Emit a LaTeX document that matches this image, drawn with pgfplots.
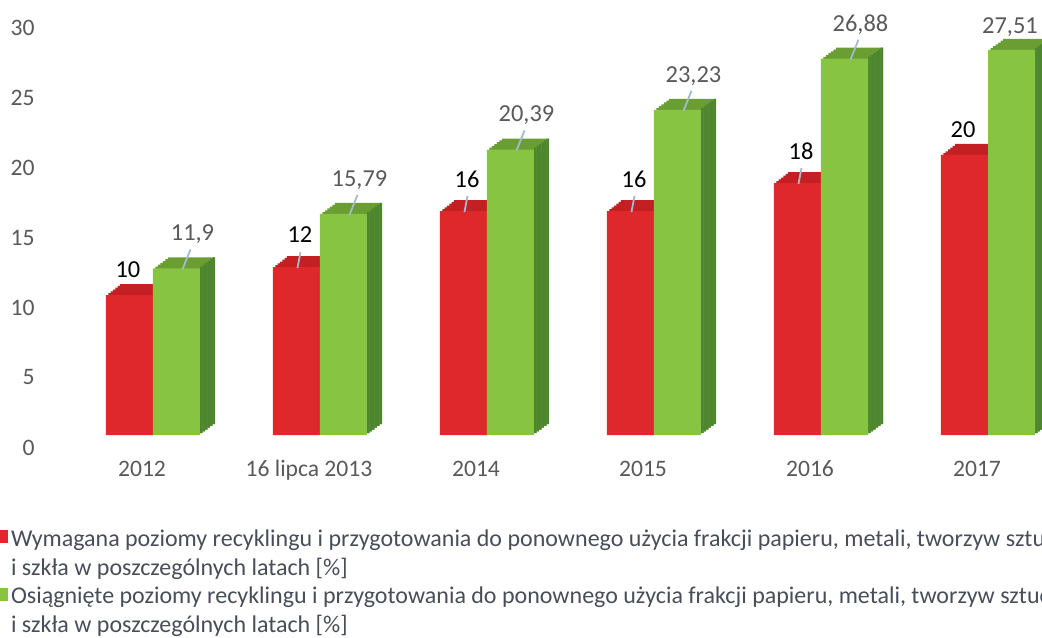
\documentclass[border=0pt]{standalone}
\usepackage{fontspec}
\setmainfont{Carlito}
\usepackage{pgfplots}
\usepackage{pgfplotstable}
\pgfplotsset{compat=1.18}
\definecolor{redF}{RGB}{222,40,44}
\definecolor{redT}{RGB}{196,32,36}
\definecolor{grnF}{RGB}{134,196,66}
\definecolor{grnT}{RGB}{106,158,50}
\definecolor{grnS}{RGB}{78,134,48}
\definecolor{txt}{RGB}{89,89,89}
\definecolor{legtxt}{RGB}{72,78,88}
\definecolor{lead}{RGB}{165,185,205}
\pgfdeclareplotmark{leadG}{\pgfpathmoveto{\pgfpoint{3pt}{-0.5pt}}\pgfpathlineto{\pgfpoint{7pt}{9.5pt}}\pgfusepathqstroke}
\pgfdeclareplotmark{leadR}{\pgfpathmoveto{\pgfpoint{0.5pt}{-0.5pt}}\pgfpathlineto{\pgfpoint{2pt}{7.5pt}}\pgfusepathqstroke}
\pgfdeclareplotmark{nothing}{}
\pgfplotstableread{
x req ach
0 10 11.9
1 12 15.79
2 16 20.39
3 16 23.23
4 18 26.88
5 20 27.51
}\data
\begin{document}
\begin{tikzpicture}
\useasboundingbox (-20pt,-101pt) rectangle (501pt,217.5pt);
\clip (-20pt,-101pt) rectangle (501pt,217.5pt);
\begin{axis}[
  scale only axis, width=501pt, height=217.5pt,
  xmin=-0.6766, xmax=5.3234, ymin=0, ymax=31.0714,
  clip=false,
  axis line style={draw=none}, tick style={draw=none}, major tick length=0pt,
  xtick={0,...,5}, xticklabels={2012,16 lipca 2013,2014,2015,2016,2017},
  ytick={0,5,...,30},
  /pgf/number format/assume math mode=true,
  /pgf/number format/use comma,
  tick label style={font=\fontsize{11.8}{14}\selectfont, text=txt},
  xticklabel style={anchor=base, yshift=-20.5pt, xshift=-5.5pt},
  yticklabel style={anchor=east, inner sep=0pt, xshift=-2.5pt, yshift=-6.25pt},
  legend cell align=left,
  legend style={at={(-0.04491,-0.2185)}, anchor=north west, draw=none, fill=none,
    inner sep=0pt, outer sep=0pt, row sep=4.5pt, column sep=1.5pt,
    font=\fontsize{12}{14.3}\selectfont, text=legtxt,
    nodes={inner sep=0pt, outer sep=0pt}, cells={anchor=west, align=left}},
]
% red depth
\pgfplotsinvokeforeach{1,...,6}{
  \addplot[ybar, bar width=23.5pt, bar shift=-11.75pt, fill=redT, draw=none, forget plot,
    xshift={#1*7pt/6}, yshift={#1*5.5pt/6}] table[x=x,y=req]{\data};
}
\addplot[ybar, bar width=23.5pt, bar shift=-11.75pt, fill=redF, draw=none,
  legend image code/.code={\fill[redF] (0pt,5.4pt) rectangle (6.5pt,11.9pt);}] table[x=x,y=req]{\data};
\addlegendentry{Wymagana poziomy recyklingu i przygotowania do ponownego użycia frakcji papieru, metali, tworzyw sztucznych\\i szkła w poszczególnych latach [\%]}
% green depth
\pgfplotsinvokeforeach{1,...,6}{
  \addplot[ybar, bar width=23.5pt, bar shift=11.75pt, fill=grnT, draw=none, forget plot,
    xshift={#1*7.5pt/6}, yshift={#1*5.5pt/6}] table[x=x,y=ach]{\data};
}
\pgfplotsinvokeforeach{1,...,6}{
  \addplot[ybar, bar width=1.3pt, bar shift=22.95pt, fill=grnS, draw=none, forget plot,
    xshift={#1*7.5pt/6}, yshift={#1*5.5pt/6}] table[x=x,y=ach]{\data};
}
\addplot[ybar, bar width=23.5pt, bar shift=11.75pt, fill=grnF, draw=none,
  legend image code/.code={\fill[grnF] (0pt,5.4pt) rectangle (6.5pt,11.9pt);}] table[x=x,y=ach]{\data};
\addlegendentry{Osiągnięte poziomy recyklingu i przygotowania do ponownego użycia frakcji papieru, metali, tworzyw sztucznych\\i szkła w poszczególnych latach [\%]}
% labels and leader lines
\addplot[only marks, mark=leadR, mark options={draw=lead, line width=0.9pt}, forget plot,
  xshift=-11.75pt, nodes near coords,
  nodes near coords style={anchor=center, xshift=1.75pt, yshift=16pt, text=black, font=\fontsize{12.2}{14}\selectfont}]
  coordinates {(1,12) (2,16) (3,16) (4,18)};
\addplot[only marks, mark=nothing, forget plot,
  xshift=-11.75pt, nodes near coords,
  nodes near coords style={anchor=center, xshift=-0.75pt, yshift=12.5pt, text=black, font=\fontsize{12.2}{14}\selectfont}]
  coordinates {(0,10) (5,20)};
\addplot[only marks, mark=leadG, mark options={draw=lead, line width=0.9pt}, forget plot,
  xshift=11.75pt, nodes near coords,
  nodes near coords style={anchor=center, xshift=8pt, yshift=17pt, text=txt, font=\fontsize{12.2}{14}\selectfont}]
  coordinates {(0,11.9) (1,15.79) (2,20.39) (3,23.23) (4,26.88)};
\addplot[only marks, mark=nothing, forget plot,
  xshift=11.75pt, nodes near coords,
  nodes near coords style={anchor=center, xshift=-0.75pt, yshift=11.5pt, text=txt, font=\fontsize{12.2}{14}\selectfont}]
  coordinates {(5,27.51)};
\end{axis}
\end{tikzpicture}
\end{document}
